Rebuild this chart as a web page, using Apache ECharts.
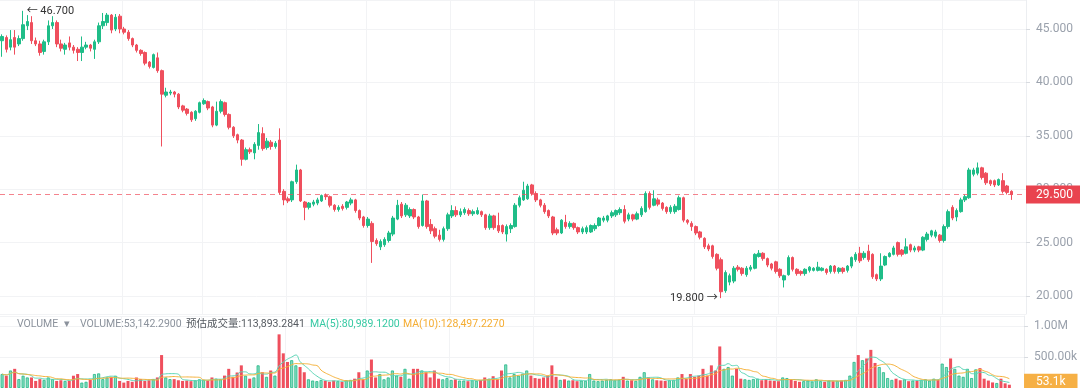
<!DOCTYPE html>
<html><head><meta charset="utf-8">
<script src="https://cdn.jsdelivr.net/npm/echarts@6/dist/echarts.min.js"></script>
<style>html,body{margin:0;padding:0;background:#fff}#c{width:1080px;height:388px}</style>
</head><body><div id="c"></div>
<script>
// [open, close, low, high]
const ohlc = [
[43.9,44.3,42.4,44.5],[44.2,43.1,42.8,44.4],[43.3,44.0,43.0,44.9],[44.2,43.3,42.6,44.9],[43.6,44.1,43.4,44.4],
[44.1,45.4,43.9,46.7],[45.3,45.7,44.9,46.3],[45.6,43.9,43.6,46.2],[43.9,43.6,43.4,44.2],[43.6,42.8,42.5,43.9],
[42.9,43.8,42.6,44.0],[43.8,45.3,43.5,45.8],[45.3,45.6,45.0,46.2],[45.6,43.6,43.3,45.8],[43.6,43.2,42.9,44.0],
[43.1,43.5,42.6,43.7],[43.7,43.3,43.0,44.3],[43.3,43.0,42.7,43.5],[43.1,42.8,42.0,43.3],[42.8,43.3,42.0,44.3],
[43.3,43.5,43.1,43.8],[43.5,43.2,42.9,43.6],[43.1,43.8,42.2,44.0],[43.8,45.3,43.6,45.6],[45.3,45.7,45.0,46.5],
[45.6,46.3,45.3,46.5],[46.3,44.9,44.6,46.4],[45.0,46.1,44.8,46.4],[46.2,45.0,44.6,46.4],[45.0,44.7,44.5,45.2],
[44.7,44.1,43.9,44.9],[44.1,43.5,43.3,44.2],[43.5,43.0,42.8,43.6],[43.0,42.7,42.5,43.1],[42.8,41.8,41.6,42.9],
[41.9,41.5,41.3,42.0],[41.4,42.6,41.3,42.7],[42.3,41.1,40.9,42.8],[41.1,38.9,34.0,41.2],[38.8,39.1,38.6,39.5],
[39.0,39.1,38.8,39.3],[39.1,38.9,38.6,39.2],[38.9,37.7,37.5,39.0],[37.8,37.4,37.2,37.9],[37.5,37.1,36.9,37.6],
[37.2,36.5,36.3,37.3],[36.6,37.3,36.4,37.4],[37.2,38.1,37.1,38.2],[38.0,38.3,37.9,38.5],[38.2,37.6,37.4,38.3],
[37.7,36.0,35.8,37.8],[36.0,37.3,35.9,38.2],[37.3,38.2,37.1,38.4],[38.1,37.0,36.8,38.2],[37.0,35.8,35.6,37.1],
[35.8,35.0,34.8,35.9],[35.1,34.6,34.3,35.2],[34.6,32.8,32.2,34.7],[32.8,33.7,32.7,33.9],[33.7,33.5,33.3,33.9],
[33.4,34.2,32.8,34.4],[34.1,35.3,33.7,36.1],[35.2,33.8,33.6,35.8],[33.9,34.5,33.7,34.8],[34.4,34.0,33.7,34.6],
[34.0,34.3,33.8,34.5],[34.6,29.7,29.5,35.7],[29.8,29.0,28.5,30.0],[29.1,28.9,28.7,29.3],[29.0,30.7,28.8,30.8],
[30.7,31.8,30.5,32.3],[31.8,28.9,28.8,31.9],[28.8,28.3,27.1,28.9],[28.3,28.7,28.1,28.8],[28.6,28.8,28.4,29.0],
[28.7,29.0,28.5,29.2],[28.9,29.4,28.8,29.5],[29.4,29.3,29.0,29.6],[29.3,28.5,28.3,29.4],[28.5,28.1,27.9,28.6],
[28.1,28.3,27.9,28.5],[28.4,28.2,28.0,28.6],[28.3,28.8,28.1,28.9],[28.7,29.0,28.5,29.2],[29.0,28.0,27.8,29.1],
[28.0,27.3,27.1,28.1],[27.4,26.6,26.4,27.5],[26.6,27.2,26.4,27.4],[26.8,25.1,23.1,27.0],[25.2,24.9,24.7,25.4],
[24.6,25.1,24.3,25.3],[24.8,25.3,24.6,25.5],[25.2,25.9,25.0,26.1],[25.8,27.3,25.6,27.5],[27.2,28.5,27.1,29.0],
[28.6,27.5,27.3,28.8],[27.6,28.5,27.4,28.7],[27.5,28.1,27.3,28.3],[28.1,27.4,27.2,28.2],[27.4,26.5,26.3,27.5],
[26.6,28.9,26.5,29.5],[28.9,26.5,26.3,29.0],[26.7,26.1,25.8,27.2],[26.3,25.6,25.4,26.5],[25.7,25.3,25.1,26.2],
[25.3,26.3,25.1,26.5],[26.3,27.6,26.1,27.8],[27.5,28.0,27.3,28.5],[28.0,27.6,27.4,28.4],[27.6,27.9,27.4,28.2],
[27.8,28.1,27.6,28.3],[28.0,27.7,27.5,28.2],[27.7,27.9,27.5,28.1],[27.7,28.0,27.6,28.3],[27.9,27.6,27.4,28.0],
[27.6,26.4,26.2,27.7],[26.4,27.5,26.2,27.7],[27.5,26.4,26.2,27.6],[26.6,26.1,25.9,27.8],[26.6,26.0,25.8,26.7],
[25.8,26.5,25.1,26.7],[26.3,26.6,25.9,26.8],[26.5,28.5,26.4,28.7],[28.5,29.2,28.3,29.4],[29.0,29.9,28.9,30.7],
[29.1,30.3,29.0,30.5],[30.4,29.6,29.4,30.5],[29.6,29.0,28.8,29.8],[29.0,28.5,28.3,29.1],[28.5,27.9,27.7,28.7],
[28.0,27.5,27.3,28.1],[27.4,25.9,25.7,27.5],[26.2,25.9,25.7,26.4],[25.9,27.1,25.8,27.2],[26.9,26.5,26.3,27.6],
[26.5,26.8,26.3,27.0],[26.8,26.4,26.2,26.9],[26.4,26.0,25.8,26.5],[26.0,26.3,25.8,26.5],[26.0,26.4,25.8,26.6],
[26.0,26.6,25.9,26.7],[26.3,26.6,26.1,26.8],[26.6,27.3,26.5,27.4],[27.1,27.3,26.9,27.5],[27.1,27.5,26.9,27.6],
[27.5,27.8,27.3,28.0],[27.6,28.0,27.4,28.1],[27.8,28.1,27.6,28.3],[28.1,27.0,26.8,28.5],[27.2,27.6,27.0,27.8],
[27.6,27.2,27.0,27.7],[27.2,27.7,27.1,27.9],[27.6,28.2,27.4,28.4],[27.9,29.6,27.8,29.8],[29.6,28.3,28.1,29.8],
[28.5,29.1,28.4,29.9],[29.0,28.6,28.4,29.2],[28.7,28.2,28.0,28.8],[28.3,27.9,27.7,28.4],[27.9,28.3,27.7,28.5],
[27.9,28.4,27.7,28.6],[28.1,29.2,28.0,29.4],[29.2,27.1,26.9,29.3],[27.1,26.9,26.7,27.2],[26.8,26.5,26.1,27.0],
[26.5,25.9,25.7,26.6],[26.0,25.5,25.3,26.1],[25.4,24.6,24.4,25.5],[24.7,24.4,24.2,24.9],[24.7,23.7,23.5,24.8],
[23.9,22.6,22.4,24.0],[23.4,20.4,19.8,23.6],[20.5,22.2,20.3,22.4],[21.3,21.9,21.0,22.1],[21.4,22.6,21.2,22.8],
[22.7,22.5,22.3,22.9],[22.6,22.1,21.9,22.7],[22.0,22.6,21.8,22.8],[22.5,22.7,22.3,22.9],[22.6,23.9,22.5,24.0],
[23.7,24.0,23.6,24.3],[24.0,23.5,23.3,24.1],[23.5,22.9,22.7,23.6],[23.0,22.6,22.4,23.1],[23.2,22.3,22.1,23.3],
[22.5,21.9,21.7,22.6],[21.5,21.9,20.8,22.0],[22.0,23.6,21.9,23.8],[23.6,22.5,22.3,23.7],[22.5,22.1,21.9,22.6],
[22.3,22.1,21.9,22.4],[22.1,22.5,21.9,22.6],[22.4,22.7,22.2,22.8],[22.4,22.6,22.3,22.7],[22.4,22.7,22.3,23.2],
[22.4,22.6,22.3,22.7],[22.5,22.2,22.0,22.6],[22.3,22.8,22.1,22.9],[22.8,22.3,22.1,22.9],[22.3,22.6,22.1,22.7],
[22.6,22.3,22.1,22.7],[22.4,22.8,22.2,22.9],[22.8,23.6,22.6,23.7],[23.4,23.9,23.2,24.1],[24.0,23.3,23.1,24.6],
[23.6,24.0,23.4,24.2],[24.2,23.4,23.2,24.8],[23.9,21.8,21.6,24.0],[22.0,21.6,21.4,22.1],[21.6,22.8,21.4,24.0],
[22.9,23.7,22.8,23.8],[23.7,24.0,23.6,24.1],[23.9,24.5,23.8,24.7],[25.0,23.9,23.7,25.1],[24.3,23.9,23.7,24.4],
[24.0,24.6,23.9,25.4],[24.8,24.3,24.1,24.9],[24.3,24.5,24.1,24.7],[24.6,24.3,24.1,24.7],[24.3,25.5,24.2,25.6],
[25.3,25.8,25.1,26.0],[25.7,26.1,25.5,26.2],[25.6,26.0,25.4,26.2],[25.7,25.2,25.0,25.8],[25.2,26.5,25.0,26.7],
[26.5,27.9,26.3,28.1],[28.3,27.3,27.1,28.5],[27.4,28.0,27.0,28.2],[27.9,29.0,27.8,29.2],[29.0,29.3,28.8,29.5],
[29.2,31.8,29.1,32.0],[31.4,31.8,31.2,32.0],[31.5,32.0,31.3,32.5],[32.0,31.1,30.9,32.1],[31.5,30.6,30.4,31.6],
[30.8,30.5,30.3,30.9],[30.8,30.4,30.2,30.9],[30.4,30.9,30.3,31.0],[30.8,29.8,29.6,31.5],[30.3,29.7,29.5,30.4],
[29.8,29.5,29.0,29.9]
];
// volume in thousands
const volumesK = [
225,198,282,309,143,198,170,170,114,143,
130,170,143,114,125,114,114,198,225,87,
100,130,225,235,143,170,180,198,114,87,
114,100,170,143,114,125,143,170,531,170,
143,143,125,114,120,110,125,140,130,120,
170,150,140,200,309,180,250,365,198,150,
170,365,254,180,282,200,865,559,420,448,
365,338,254,140,120,110,130,115,100,120,
110,100,125,130,150,254,140,282,459,170,
225,140,170,282,200,180,309,150,309,309,
282,254,170,282,150,140,160,130,140,120,
120,110,125,115,130,170,150,190,140,282,
380,170,225,200,230,282,200,160,150,170,
200,365,180,130,140,120,125,110,120,115,
225,120,110,120,130,140,125,130,180,120,
125,115,180,254,170,140,125,120,115,125,
130,170,225,150,225,180,200,309,200,365,
282,670,309,338,200,309,150,140,130,145,
150,125,140,120,115,110,170,160,130,115,
100,110,120,105,140,110,100,120,110,115,
120,130,200,420,531,448,476,615,404,338,
254,160,130,150,125,140,110,120,115,130,
140,120,150,130,393,338,476,309,200,180,
309,160,300,320,150,120,90,80,150,75,
53.142
];
const blankSlots = ['b1','b2','b3'];
const categories = ohlc.map((_, i) => 'k' + i).concat(blankSlots);
const xGridAt = [29, 48, 68, 87, 107, 127, 146, 165, 185, 204, 224];
const priceTicksFmt = v => v.toFixed(3);
const legendTexts = [
  {text: 'VOLUME', x: 17, color: '#8b929c'},
  {text: '▾', x: 64, color: '#8b929c'},
  {text: 'VOLUME:53,142.2900', x: 80, color: '#8b929c'},
  {text: '预估成交量:113,893.2841', x: 186, color: '#555a60'},
  {text: 'MA(5):80,989.1200', x: 310, color: '#36c9a3'},
  {text: 'MA(10):128,497.2270', x: 403, color: '#f5ad32'}
];

const UP = '#1fbd88', DOWN = '#ef4f5d';
const FONT = 'Roboto, "Noto Sans CJK SC", sans-serif';

function movingAvg(n) {
  return volumesK.map((v, i) => {
    const s = volumesK.slice(Math.max(0, i - n + 1), i + 1);
    return +(s.reduce((a, b) => a + b, 0) / s.length).toFixed(3);
  });
}
const volData = volumesK.map((v, i) => {
  const up = ohlc[i][1] >= ohlc[i][0];
  return {value: v, itemStyle: up
    ? {color: 'rgba(32,191,138,0.55)', borderColor: '#22b887', borderWidth: 0.8}
    : {color: DOWN}};
});
const lastClose = ohlc[ohlc.length - 1][1];
const lastVol = volumesK[volumesK.length - 1];

const chart = echarts.init(document.getElementById('c'), null, {renderer: 'canvas'});
const splitX = {show: true, interval: (idx) => xGridAt.includes(idx), lineStyle: {color: '#f2f3f5', width: 1}};
chart.setOption({
  animation: false,
  backgroundColor: '#ffffff',
  textStyle: {fontFamily: FONT},
  grid: [
    {left: 0, right: 54, top: 0, height: 314},
    {left: 0, right: 54, top: 316, height: 72}
  ],
  xAxis: [
    {type: 'category', gridIndex: 0, data: categories, boundaryGap: true,
      axisLine: {show: false}, axisTick: {show: false}, axisLabel: {show: false}, splitLine: splitX},
    {type: 'category', gridIndex: 1, data: categories, boundaryGap: true,
      axisLine: {show: false}, axisTick: {show: false}, axisLabel: {show: false}, splitLine: splitX}
  ],
  yAxis: [
    {type: 'value', gridIndex: 0, position: 'right', min: 18.315, max: 47.715, splitNumber: 6,
      axisLine: {show: true, lineStyle: {color: '#eceef1'}},
      axisTick: {show: true, length: 4, lineStyle: {color: '#d8dbe0'}},
      axisLabel: {color: '#9aa1ac', fontSize: 12, margin: 10, formatter: priceTicksFmt,
        showMinLabel: false, showMaxLabel: false, fontFamily: FONT},
      splitLine: {lineStyle: {color: '#f2f3f5'}}},
    {type: 'value', gridIndex: 1, position: 'right', min: 0, max: 1161, interval: 500,
      axisLine: {show: true, lineStyle: {color: '#eceef1'}},
      axisTick: {show: true, length: 4, lineStyle: {color: '#d8dbe0'}},
      axisLabel: {color: '#9aa1ac', fontSize: 12, margin: 10, showMinLabel: false, showMaxLabel: false,
        fontFamily: FONT,
        formatter: v => v >= 1000 ? (v / 1000).toFixed(2) + 'M' : v.toFixed(2) + 'k'},
      splitLine: {lineStyle: {color: '#f2f3f5'}}}
  ],
  graphic: legendTexts.map(t => ({
    type: 'text', x: t.x, y: 324, z: 50,
    style: {text: t.text, fill: t.color, fontSize: 10.5, fontFamily: FONT, verticalAlign: 'middle'}
  })),
  series: [
    {
      type: 'candlestick', name: 'price', xAxisIndex: 0, yAxisIndex: 0, data: ohlc, barWidth: 3,
      itemStyle: {color: UP, color0: DOWN, borderColor: UP, borderColor0: DOWN, borderWidth: 1},
      markPoint: {
        symbol: 'circle', symbolSize: 1, itemStyle: {color: 'rgba(0,0,0,0)'},
        label: {color: '#333', fontSize: 11, fontFamily: FONT},
        data: [
          {type: 'max', valueDim: 'highest',
            label: {position: 'right', distance: 3, formatter: p => '← ' + Number(p.value).toFixed(3)}},
          {type: 'min', valueDim: 'lowest',
            label: {position: 'left', distance: 3, formatter: p => Number(p.value).toFixed(3) + ' →'}}
        ]
      },
      markLine: {
        silent: true, symbol: ['none', 'none'],
        lineStyle: {color: 'rgba(239,79,93,0.7)', type: [5, 4], width: 1},
        label: {position: 'end', distance: 0, formatter: p => Number(p.value).toFixed(3),
          backgroundColor: '#e9434f', color: '#fff', fontSize: 12, padding: [3, 10, 3, 10], fontFamily: FONT},
        data: [{yAxis: lastClose}]
      }
    },
    {
      type: 'bar', name: 'volume', xAxisIndex: 1, yAxisIndex: 1, data: volData, barWidth: '72%',
      markLine: {
        silent: true, symbol: ['none', 'none'],
        lineStyle: {color: 'rgba(0,0,0,0)', width: 0},
        label: {position: 'end', distance: 0, formatter: p => Number(p.value).toFixed(1) + 'k',
          backgroundColor: '#f6b045', color: '#fff', fontSize: 12, padding: [2, 12, 2, 12], offset: [0, -3], fontFamily: FONT},
        data: [{yAxis: lastVol}]
      }
    },
    {type: 'line', name: 'MA5', xAxisIndex: 1, yAxisIndex: 1, data: movingAvg(5), showSymbol: false, smooth: true,
      lineStyle: {color: '#5bd6b6', width: 1}, z: 3},
    {type: 'line', name: 'MA10', xAxisIndex: 1, yAxisIndex: 1, data: movingAvg(10), showSymbol: false, smooth: true,
      lineStyle: {color: '#f6b23a', width: 1}, z: 3}
  ]
});
</script>
</body></html>
